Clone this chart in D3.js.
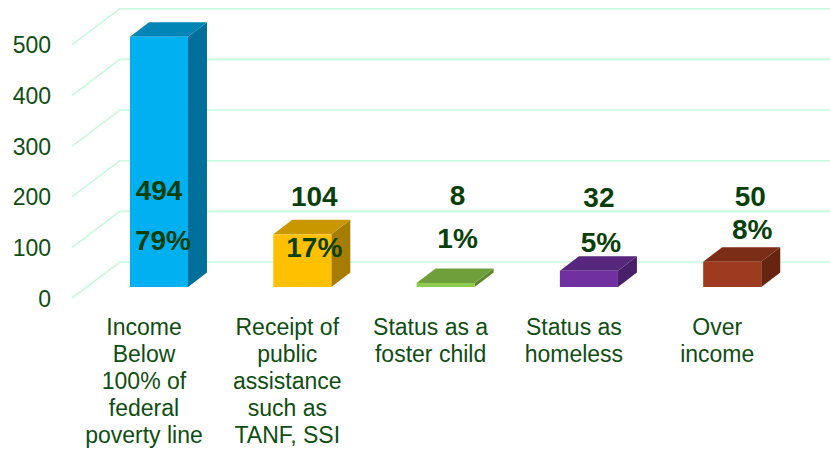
<!DOCTYPE html>
<html>
<head>
<meta charset="utf-8">
<script src="https://cdn.jsdelivr.net/npm/d3@7"></script>
<style>
  html, body { margin: 0; padding: 0; background: #fff; }
  svg { display: block; }
</style>
</head>
<body>
<div id="chart"></div>
<script>
// ---- data ----
const categories = [
  ["Income", "Below", "100% of", "federal", "poverty line"],
  ["Receipt of", "public", "assistance", "such as", "TANF, SSI"],
  ["Status as a", "foster child"],
  ["Status as", "homeless"],
  ["Over", "income"]
];
const values = [494, 104, 8, 32, 50];
const percents = ["79%", "17%", "1%", "5%", "8%"];
const yTicks = [0, 100, 200, 300, 400, 500];

// ---- styles / layout ----
const W = 830, H = 452;
const frontColors = ["#00b0f0", "#ffc000", "#8fcc4d", "#7030a0", "#9e3a1f"];
const topColors   = ["#0085b6", "#c99800", "#6f9f3a", "#57267d", "#7c2d17"];
const sideColors  = ["#00709a", "#a67d00", "#5c8630", "#4a1f6a", "#67250f"];
const gridColor = "#c6fadd";
const textColor = "#0f4d12";
const valueColor = "#0a3f0c";
// label layout (baselines and horizontal shifts)
const valueBaseline = [200, 206, 205, 207, 206];
const pctBaseline   = [250, 257, 248, 252, 239];
const labelShift    = [0, 12, 12, 10, 18];
const pctShift      = [4, 12, 12, 12, 20];

const svg = d3.select("#chart").append("svg")
  .attr("width", W).attr("height", H);

// front-plane value scale
const y = d3.scaleLinear().domain([0, 500]).range([298, 44.7]);
const gridStartX = 72, depthX = 48, depthY = -36;

// x band scale for bars
const keys = categories.map((c, i) => i);
const x = d3.scaleBand().domain(keys).range([44.7, 846.5])
  .paddingInner(0.595).paddingOuter(0.595);

// bar plane offset from front plane
const barOffY = -11;
const barDX = 19, barDY = -14.5;

// gridlines
const grid = svg.append("g");
yTicks.forEach(t => {
  const y0 = y(t);
  grid.append("path")
    .attr("d", `M${gridStartX},${y0} L${gridStartX + depthX},${y0 + depthY} L${W},${y0 + depthY}`)
    .attr("fill", "none")
    .attr("stroke", gridColor)
    .attr("stroke-width", 1.6);
});

// y axis labels
svg.append("g").selectAll("text").data(yTicks).join("text")
  .attr("x", 51)
  .attr("y", d => y(d) + 8.5)
  .attr("text-anchor", "end")
  .attr("font-family", "Liberation Sans, Arial, sans-serif")
  .attr("font-size", 23)
  .attr("fill", textColor)
  .text(d => d);

// bars
const bars = svg.append("g");
values.forEach((v, i) => {
  const x0 = x(i), x1 = x(i) + x.bandwidth();
  const yb = y(0) + barOffY, yt = y(v) + barOffY;
  const g = bars.append("g");
  g.append("path")
    .attr("d", `M${x1},${yt} L${x1 + barDX},${yt + barDY} L${x1 + barDX},${yb + barDY} L${x1},${yb} Z`)
    .attr("fill", sideColors[i]);
  g.append("path")
    .attr("d", `M${x0},${yt} L${x0 + barDX},${yt + barDY} L${x1 + barDX},${yt + barDY} L${x1},${yt} Z`)
    .attr("fill", topColors[i]);
  g.append("rect")
    .attr("x", x0).attr("y", yt)
    .attr("width", x.bandwidth()).attr("height", yb - yt)
    .attr("fill", frontColors[i]);
});

// value labels
const labels = svg.append("g")
  .attr("font-family", "Liberation Sans, Arial, sans-serif")
  .attr("font-weight", "bold")
  .attr("font-size", 28)
  .attr("fill", valueColor)
  .attr("text-anchor", "middle");
values.forEach((v, i) => {
  const cx = x(i) + x.bandwidth() / 2;
  labels.append("text").attr("x", cx + labelShift[i]).attr("y", valueBaseline[i]).text(v);
  labels.append("text").attr("x", cx + pctShift[i]).attr("y", pctBaseline[i]).text(percents[i]);
});

// category labels
const cats = svg.append("g")
  .attr("font-family", "Liberation Sans, Arial, sans-serif")
  .attr("font-size", 23)
  .attr("fill", textColor)
  .attr("text-anchor", "middle");
categories.forEach((lines, i) => {
  const cx = x(i) + x.bandwidth() / 2 - 15;
  const t = cats.append("text").attr("x", cx).attr("y", 335);
  lines.forEach((ln, j) => {
    t.append("tspan").attr("x", cx).attr("dy", j === 0 ? 0 : 27).text(ln);
  });
});
</script>
</body>
</html>
